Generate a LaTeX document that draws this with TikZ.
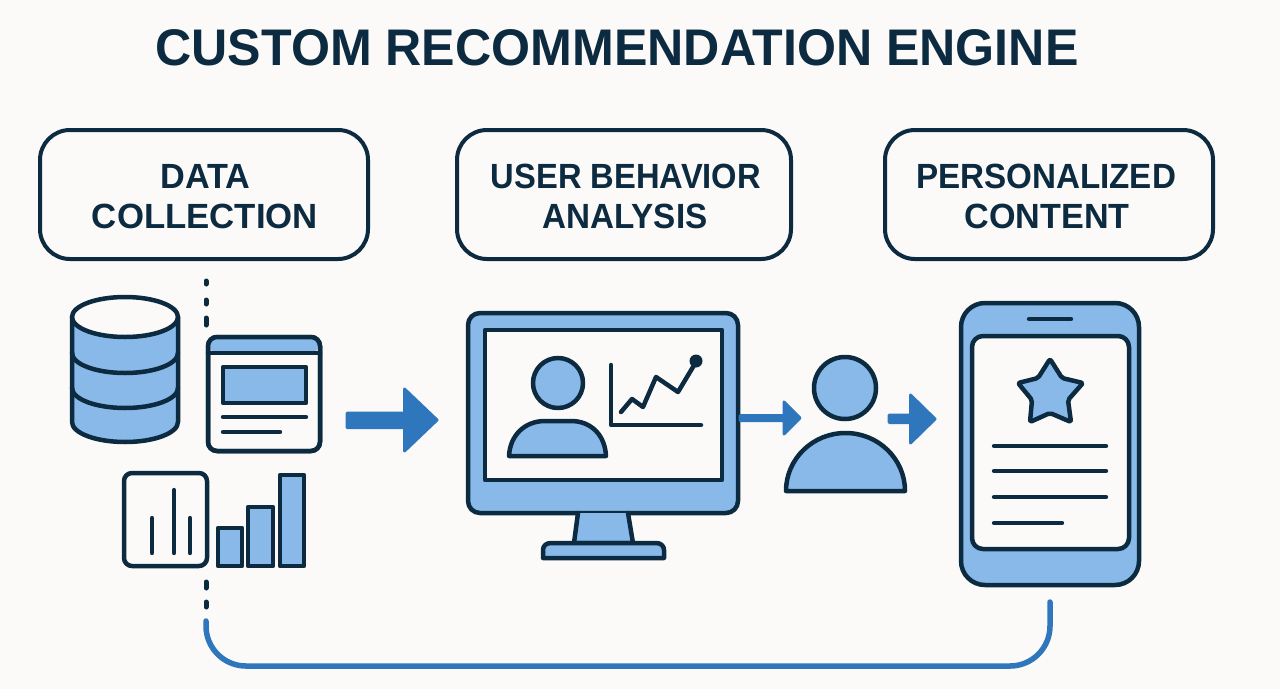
\documentclass[tikz,border=0pt]{standalone}
\usepackage{fontspec}
\usepackage{graphicx}
\setmainfont{Liberation Sans}
\definecolor{ink}{HTML}{0D2B40}
\definecolor{sky}{HTML}{88B9E9}
\definecolor{flow}{HTML}{2E77BD}
\definecolor{paper}{HTML}{FBFAF8}
\newcommand{\fitline}[2]{\resizebox{#1pt}{\height}{#2}}
\newcommand{\lowerstrut}{\rule{0pt}{28pt}}
\tikzset{
  labelbox/.style={draw=ink,line width=4pt,fill=paper,rounded corners=30pt,inner sep=0pt,align=center,
    font=\fontsize{35}{40}\selectfont\bfseries,text=ink,minimum height=129pt},
  icon/.style={draw=ink,line width=4.5pt,line join=round,line cap=round},
  thin icon/.style={icon,line width=4.4pt},
  iconfill/.style={icon,fill=sky},
  iconpaper/.style={icon,fill=paper},
  blockarrow/.style={fill=flow,draw=flow,line width=3pt,line join=round},
  dashpart/.style={draw=ink,line width=5pt,line cap=round},
  feedback/.style={draw=flow,line width=5.5pt,line cap=round,rounded corners=40pt},
}
\begin{document}
\begin{tikzpicture}[x=1pt,y=-1pt]
\useasboundingbox (0,0) rectangle (1280,689);
\fill[paper] (0,0) rectangle (1280,689);
\node[font=\fontsize{51.5}{54}\selectfont\bfseries,text=ink,inner sep=0pt] (title) at (617,47.5) {\fitline{923}{CUSTOM RECOMMENDATION ENGINE}};
\node[labelbox,minimum width=328pt] (collect) at (204,194.5) {\lowerstrut\hspace*{3pt}\fitline{90}{DATA}\\\hspace*{2pt}\fitline{226}{COLLECTION}};
\node[labelbox,minimum width=334pt] (analysis) at (624,194.5) {\lowerstrut\hspace*{4pt}\fitline{270}{USER BEHAVIOR}\\\hspace*{2pt}\fitline{165}{ANALYSIS}};
\node[labelbox,minimum width=328pt] (content) at (1049,194.5) {\lowerstrut\fitline{260}{PERSONALIZED}\hspace*{6pt}\\\fitline{165}{CONTENT}\hspace*{4pt}};

% database
\path[iconfill] (72,317) -- (72,422) arc[start angle=180,end angle=0,x radius=53,y radius=20] -- (178,317) -- cycle;
\draw[icon] (72,353) arc[start angle=180,end angle=0,x radius=53,y radius=20];
\draw[icon] (72,388) arc[start angle=180,end angle=0,x radius=53,y radius=20];
\path[iconpaper] (125,317) ellipse[x radius=53,y radius=20];

% window
\path[iconpaper,rounded corners=9pt] (208,337) rectangle (320,451);
\path[fill=sky,rounded corners=7pt] (210,339) -- (318,339) -- (318,353) -- (210,353) -- cycle;
\draw[icon,rounded corners=9pt] (208,337) rectangle (320,451);
\draw[icon] (208,353) -- (320,353);
\path[iconfill] (223,367) rectangle (306,403);
\draw[thin icon] (223,417) -- (306,417);
\draw[thin icon] (223,432) -- (280,432);

% chart card
\path[iconpaper,rounded corners=8pt] (124,473) rectangle (207,566);
\draw[thin icon] (152,518) -- (152,553);
\draw[thin icon] (174,490) -- (174,553);
\draw[thin icon] (190,518) -- (190,553);
\path[iconfill] (218,528) rectangle (242,566);
\path[iconfill] (248,507) rectangle (273,566);
\path[iconfill] (280,475) rectangle (304,566);

% dashes
\draw[dashpart] (206,281) -- (206,284);
\draw[dashpart] (206,300) -- (206,304);
\draw[dashpart] (206,318) -- (206,325);
\draw[dashpart] (206,582) -- (206,588);
\draw[dashpart] (206,602) -- (206,607);

% feedback line
\coordinate (fbstart) at (206,621);
\coordinate (fbend) at (1050,602);
\draw[feedback] (fbstart) -- (206,666) -- (1050,666) -- (fbend);

% main arrow
\fill[blockarrow] (347,413) -- (404.5,413) -- (404.5,389) -- (437,420) -- (404.5,451) -- (404.5,427.5) -- (347,427.5) -- cycle;

% monitor
\path[iconfill,rounded corners=12pt] (468,313) rectangle (738,513);
\path[iconfill] (578,513) -- (574,543) -- (633,543) -- (628,513);
\path[iconfill] (543,558) -- (543,550) .. controls (543,546) and (546,543) .. (551,543) -- (656,543) .. controls (661,543) and (664,546) .. (664,550) -- (664,558) -- cycle;
\path[iconpaper] (485,330) rectangle (722,480);
\path[iconfill] (558,383) circle[radius=25];
\path[iconfill] (509,456) .. controls (510,435) and (525,421) .. (545,421) -- (571,421) .. controls (591,421) and (605,435) .. (606,456) -- cycle;
\draw[icon] (611,365) -- (611,425) -- (701,425);
\draw[icon] (621,412) -- (632,399) -- (643,407) -- (656,377) -- (678,392) -- (696,362);
\fill[ink] (696,361) circle[radius=6.5];

% small arrow
\fill[blockarrow] (740,415.5) -- (784,415.5) -- (784,402) -- (800,418) -- (784,434) -- (784,420.5) -- (740,420.5) -- cycle;

% person
\path[iconfill] (845,388) circle[radius=31];
\path[iconfill] (786,491) arc[start angle=180,end angle=0,x radius=59.5,y radius=-58] -- cycle;

% second small arrow
\fill[blockarrow] (889,415) -- (910.5,415) -- (910.5,395) -- (935,419) -- (910.5,443) -- (910.5,422.5) -- (889,422.5) -- cycle;

% phone
\path[iconfill,rounded corners=24pt] (961,303) rectangle (1139,585);
\path[iconpaper,rounded corners=11pt] (972,336) rectangle (1129,549);
\draw[thin icon] (1029,319) -- (1071,319);
\path[iconfill,rounded corners=2pt] (1050,359) -- (1062,378) -- (1083,383) -- (1068,400) -- (1071,422) -- (1050,413) -- (1030,422) -- (1032,400) -- (1018,383) -- (1038,378) -- cycle;
\draw[thin icon] (994,446) -- (1106,446);
\draw[thin icon] (994,471) -- (1106,471);
\draw[thin icon] (994,497) -- (1106,497);
\draw[thin icon] (994,523) -- (1062,523);
\end{tikzpicture}
\end{document}
